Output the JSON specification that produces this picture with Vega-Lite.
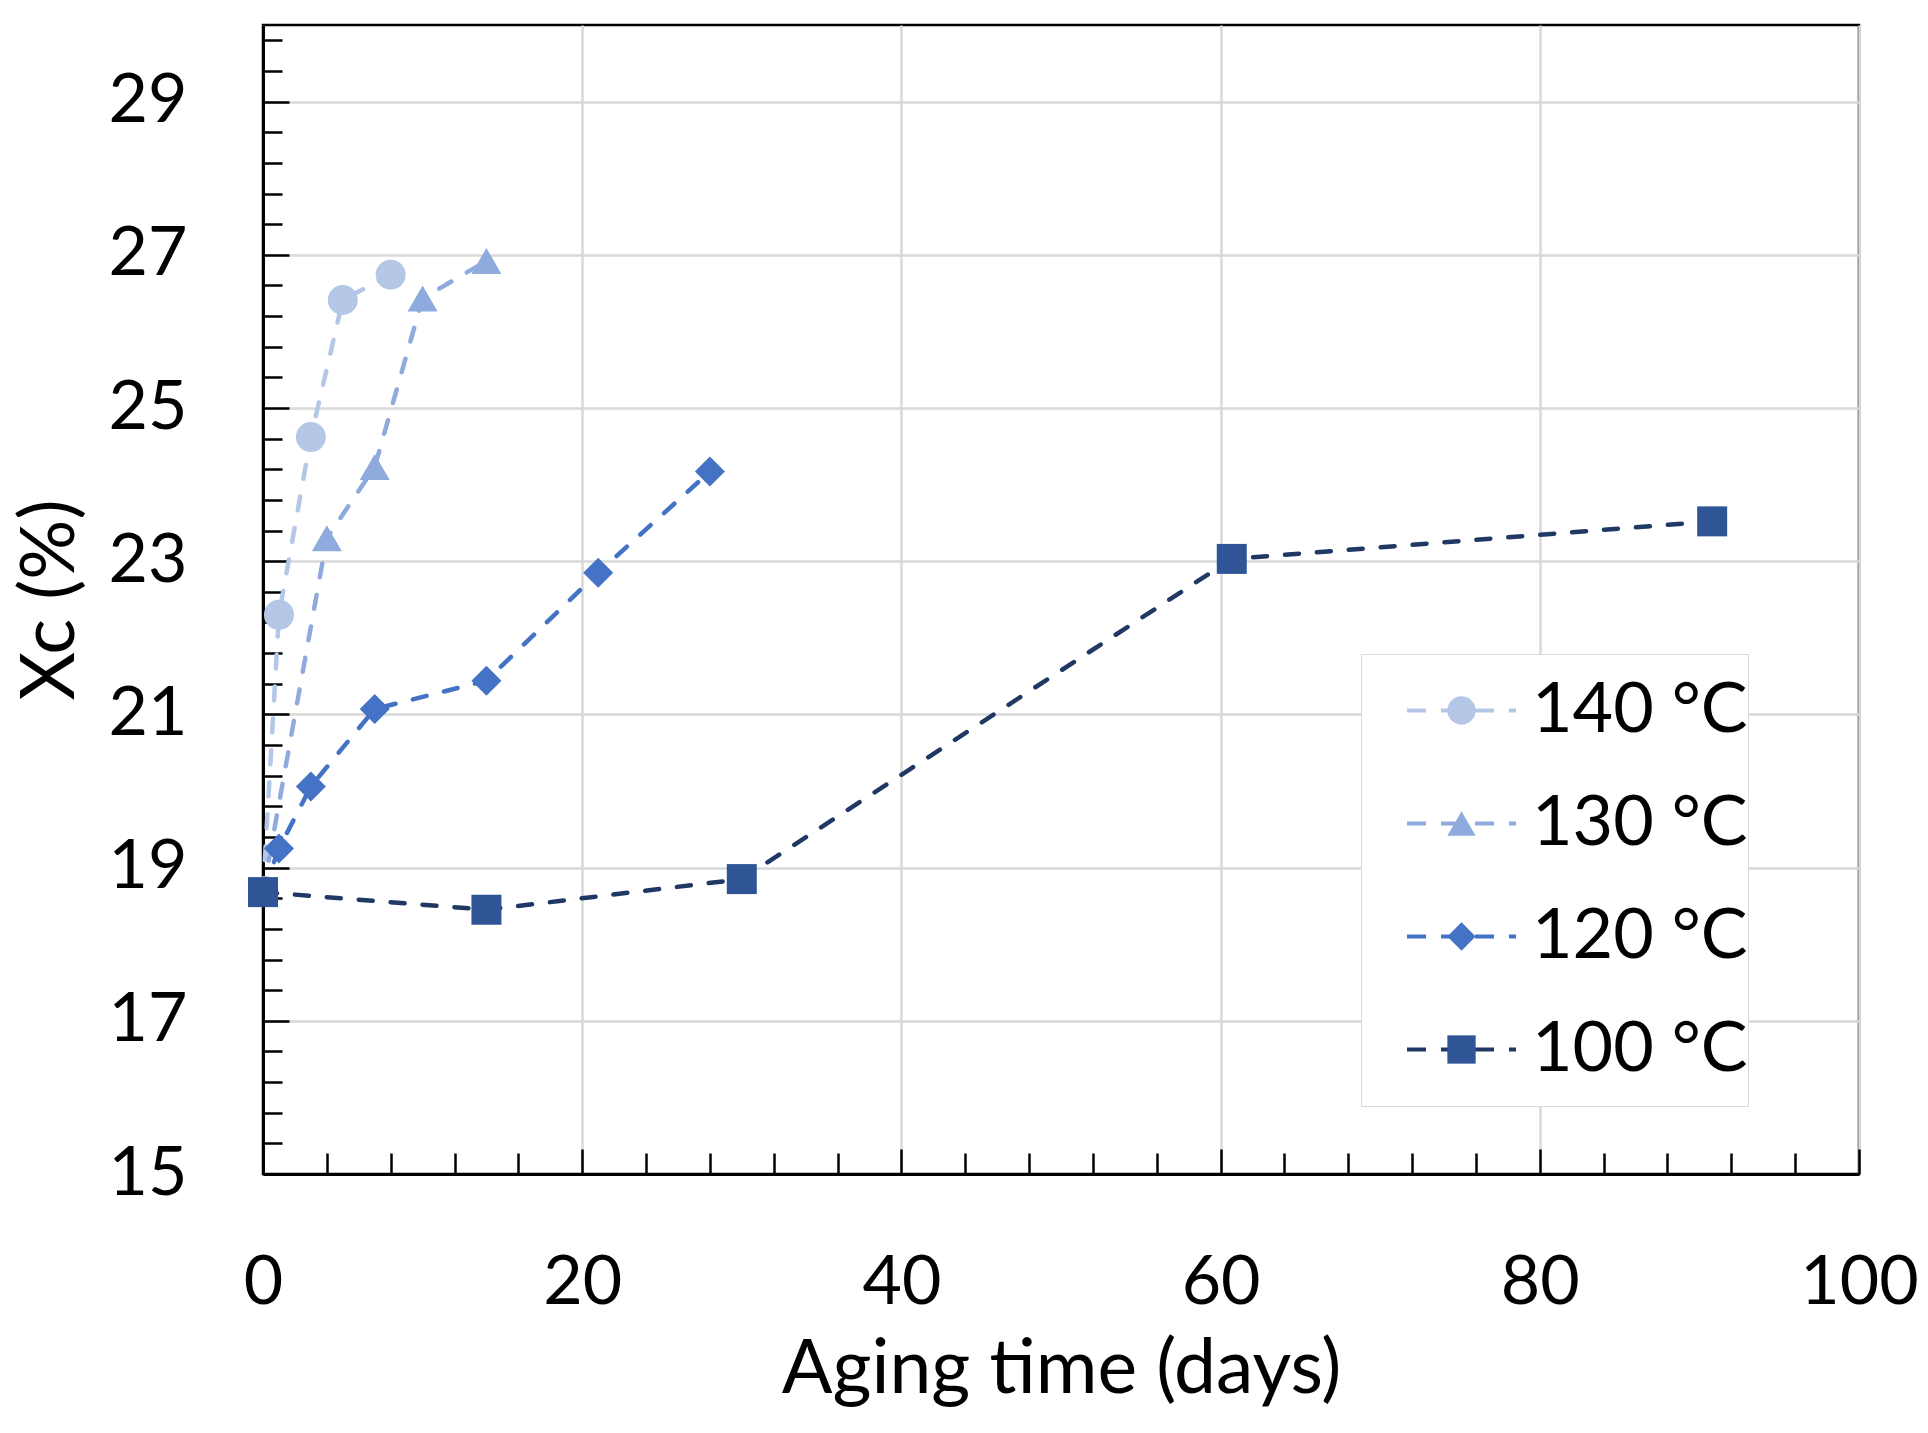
{
  "$schema": "https://vega.github.io/schema/vega-lite/v6.json",
  "width": 1596,
  "height": 1149,
  "autosize": {"type": "none"},
  "padding": {"left": 263, "top": 25, "right": 69, "bottom": 259},
  "background": "white",
  "config": {
    "font": "Lato",
    "view": {"stroke": "black", "strokeWidth": 2.5},
    "axis": {
      "labelFont": "Lato",
      "labelFontSize": 68,
      "labelColor": "black",
      "labelFlush": false,
      "labelOverlap": false,
      "titleFont": "Lato",
      "titleFontSize": 75,
      "titleFontWeight": "normal",
      "titleColor": "black",
      "tickColor": "black",
      "tickWidth": 2.5,
      "domainColor": "black",
      "domainWidth": 3,
      "gridColor": "#D9D9D9",
      "gridWidth": 2.5
    },
    "legend": {
      "labelFont": "Lato",
      "labelFontSize": 70,
      "labelColor": "black",
      "labelLimit": 500
    }
  },
  "data": {
    "values": [
      {"temp": "140 °C", "day": 0, "xc": 18.68},
      {"temp": "140 °C", "day": 1, "xc": 22.3},
      {"temp": "140 °C", "day": 3, "xc": 24.62},
      {"temp": "140 °C", "day": 5, "xc": 26.41},
      {"temp": "140 °C", "day": 8, "xc": 26.74},
      {"temp": "130 °C", "day": 0, "xc": 18.68},
      {"temp": "130 °C", "day": 4, "xc": 23.3},
      {"temp": "130 °C", "day": 7, "xc": 24.23},
      {"temp": "130 °C", "day": 10, "xc": 26.43},
      {"temp": "130 °C", "day": 14, "xc": 26.92},
      {"temp": "120 °C", "day": 0, "xc": 18.68},
      {"temp": "120 °C", "day": 1, "xc": 19.25},
      {"temp": "120 °C", "day": 3, "xc": 20.06},
      {"temp": "120 °C", "day": 7, "xc": 21.07},
      {"temp": "120 °C", "day": 14, "xc": 21.44},
      {"temp": "120 °C", "day": 21, "xc": 22.85},
      {"temp": "120 °C", "day": 28, "xc": 24.17},
      {"temp": "100 °C", "day": 0, "xc": 18.68},
      {"temp": "100 °C", "day": 14, "xc": 18.45},
      {"temp": "100 °C", "day": 30, "xc": 18.85},
      {"temp": "100 °C", "day": 60.7, "xc": 23.03},
      {"temp": "100 °C", "day": 90.8, "xc": 23.52}
    ]
  },
  "resolve": {"axis": {"x": "independent", "y": "independent"}},
  "layer": [
    {
      "mark": {"type": "line", "strokeWidth": 4.5, "strokeDash": [14, 18], "strokeCap": "round"},
      "encoding": {
        "x": {
          "field": "day", "type": "quantitative",
          "scale": {"domain": [0, 100], "nice": false, "zero": false},
          "axis": {
            "orient": "bottom",
            "values": [0, 20, 40, 60, 80, 100],
            "grid": true,
            "tickSize": -25,
            "labelPadding": 100,
            "title": "Aging time (days)",
            "titleX": 798,
            "titleY": 218,
            "titleBaseline": "alphabetic",
            "titleAlign": "center"
          }
        },
        "y": {
          "field": "xc", "type": "quantitative",
          "scale": {"domain": [15, 30], "nice": false, "zero": false},
          "axis": {
            "orient": "left",
            "values": [15, 17, 19, 21, 23, 25, 27, 29],
            "grid": true,
            "tickSize": -26,
            "labelPadding": 102,
            "title": "Xc (%)",
            "titleX": -190,
            "titleY": 574.5,
            "titleAngle": -90,
            "titleBaseline": "alphabetic",
            "titleAlign": "center"
          }
        },
        "stroke": {
          "field": "temp", "type": "nominal",
          "sort": "descending",
          "scale": {
            "range": ["#B4C7E7", "#8FAADC", "#4472C4", "#203864"]
          },
          "legend": {
            "orient": "none",
            "legendX": 1098,
            "legendY": 629,
            "title": null,
            "padding": 0,
            "rowPadding": 0,
            "clipHeight": 113,
            "symbolType": "stroke",
            "symbolSize": 11881,
            "symbolStrokeWidth": 4,
            "symbolDash": [19, 15],
            "symbolOffset": 44,
            "labelOffset": 14,
            "fillColor": "white",
            "strokeColor": "#D9D9D9",
            "zindex": 1
          }
        }
      }
    },
    {
      "transform": [{"filter": "datum.day > 0 || datum.temp === '100 °C'"}],
      "mark": {"type": "point", "filled": true, "size": 900, "opacity": 1, "strokeWidth": 0},
      "encoding": {
        "x": {
          "field": "day", "type": "quantitative",
          "axis": {
            "orient": "bottom",
            "values": [4, 8, 12, 16, 24, 28, 32, 36, 44, 48, 52, 56, 64, 68, 72, 76, 84, 88, 92, 96],
            "grid": false,
            "domain": false,
            "labels": false,
            "tickSize": -21,
            "title": null
          }
        },
        "y": {
          "field": "xc", "type": "quantitative",
          "axis": {
            "orient": "left",
            "values": [15.4, 15.8, 16.2, 16.6, 17.4, 17.8, 18.2, 18.6, 19.4, 19.8, 20.2, 20.6, 21.4, 21.8, 22.2, 22.6, 23.4, 23.8, 24.2, 24.6, 25.4, 25.8, 26.2, 26.6, 27.4, 27.8, 28.2, 28.6, 29.4, 29.8],
            "grid": false,
            "domain": false,
            "labels": false,
            "tickSize": -19,
            "title": null
          }
        },
        "fill": {
          "field": "temp", "type": "nominal",
          "scale": {
            "domain": ["140 °C", "130 °C", "120 °C", "100 °C"],
            "range": ["#B4C7E7", "#8FAADC", "#4472C4", "#2F5597"]
          },
          "legend": {
            "orient": "none",
            "legendX": 1184,
            "legendY": 629,
            "title": null,
            "padding": 0,
            "rowPadding": 0,
            "clipHeight": 113,
            "symbolSize": 800,
            "symbolStrokeWidth": 0,
            "labelExpr": "''",
            "labelFontSize": 1,
            "zindex": 2
          }
        },
        "shape": {
          "field": "temp", "type": "nominal",
          "scale": {
            "domain": ["140 °C", "130 °C", "120 °C", "100 °C"],
            "range": ["circle", "triangle-up", "diamond", "square"]
          },
          "legend": {
            "orient": "none",
            "legendX": 1184,
            "legendY": 629,
            "title": null,
            "padding": 0,
            "rowPadding": 0,
            "clipHeight": 113,
            "symbolSize": 800,
            "symbolStrokeWidth": 0,
            "labelExpr": "''",
            "labelFontSize": 1,
            "zindex": 2
          }
        }
      }
    }
  ]
}
